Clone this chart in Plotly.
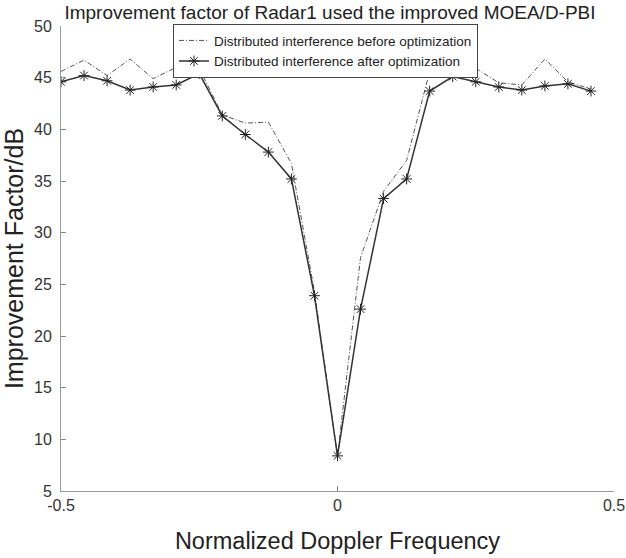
import plotly.graph_objects as go

freq = [-0.5 + k / 24 for k in range(24)]
before = [45.6, 46.7, 45.2, 46.8, 44.9, 46.0, 45.9, 41.4, 40.6, 40.7, 36.7, 24.3,
          8.4, 27.6, 34.0, 37.0, 45.6, 46.0, 45.9, 44.5, 44.3, 46.8, 44.6, 43.9]
after = [44.6, 45.2, 44.7, 43.8, 44.1, 44.3, 45.4, 41.3, 39.5, 37.8, 35.2, 23.9,
         8.4, 22.6, 33.3, 35.2, 43.7, 45.1, 44.6, 44.1, 43.8, 44.2, 44.4, 43.7]
xticks = [-0.5, 0, 0.5]
yticks = list(range(5, 51, 5))

font = "Liberation Sans, Arial, sans-serif"
fig = go.Figure()
fig.add_trace(go.Scatter(
    x=freq, y=before, mode="lines",
    name="Distributed interference before optimization",
    line=dict(color="#555555", width=1, dash="5px,2px,1px,2px"),
))
fig.add_trace(go.Scatter(
    x=freq, y=after, mode="lines+markers",
    name="Distributed interference after optimization",
    line=dict(color="#333333", width=1.5),
    marker=dict(symbol="asterisk-open", size=9, color="#222222",
                line=dict(color="#222222", width=1)),
))
fig.update_layout(
    width=626, height=558,
    margin=dict(l=61, r=12, t=26, b=67, autoexpand=False),
    paper_bgcolor="white", plot_bgcolor="white",
    font=dict(family=font, color="#222222"),
    title=dict(text="Improvement factor of Radar1 used the improved MOEA/D-PBI",
               x=330 / 626, xanchor="center", y=1 - 12 / 558, yanchor="middle",
               font=dict(size=19, color="#222222")),
    legend=dict(x=0.2025, y=1.004, xanchor="left", yanchor="top",
                bgcolor="white", bordercolor="#444444", borderwidth=1,
                font=dict(size=13.5, color="#222222"),
                tracegroupgap=0, itemwidth=30),
    showlegend=True,
)
fig.update_xaxes(
    range=[-0.5, 0.5], tickvals=xticks, ticktext=["-0.5", "0", "0.5"],
    ticks="inside", ticklen=5, tickcolor="#888888",
    showline=True, linecolor="#999999", linewidth=1, showgrid=False, zeroline=False,
    tickfont=dict(size=16, color="#333333"), automargin=False,
    title=dict(text="Normalized Doppler Frequency", font=dict(size=23.5, color="#222222"), standoff=19),
)
fig.update_yaxes(
    range=[5, 50], tickvals=yticks,
    ticks="inside", ticklen=5, tickcolor="#888888", ticklabelstandoff=5,
    showline=True, linecolor="#999999", linewidth=1, showgrid=False, zeroline=False,
    tickfont=dict(size=16, color="#333333"), automargin=False,
    title=dict(text="Improvement Factor/dB", font=dict(size=25, color="#222222"), standoff=8),
)
fig.write_html("out.html", config={"displayModeBar": False},
               post_script="document.body.style.margin='0';")
